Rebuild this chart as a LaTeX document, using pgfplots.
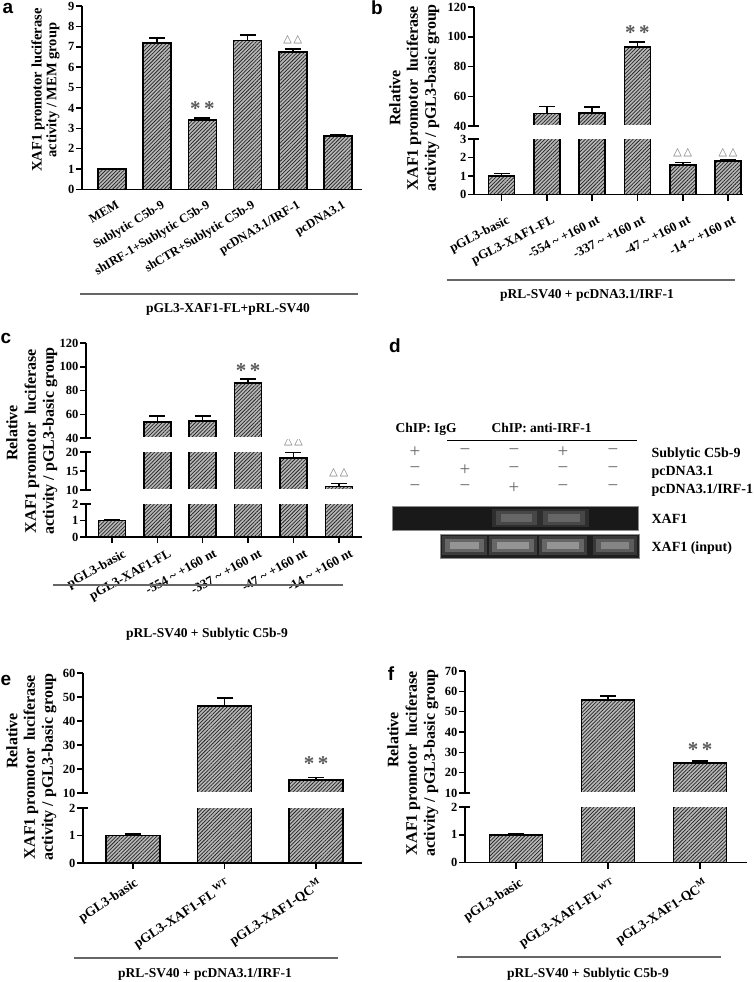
\documentclass[border=0pt]{standalone}
\usepackage{fontspec}
\setmainfont{Liberation Serif}
\newfontfamily\sflab{Liberation Sans}
\newfontfamily\djv{DejaVu Sans}
\usepackage{pgfplots}
\pgfplotsset{compat=1.18}
\usetikzlibrary{patterns.meta}
\newcommand\fs[1]{\fontsize{#1}{#1}\selectfont}
\pgfplotsset{
  base/.style={scale only axis, anchor=south west, clip mode=individual, enlargelimits=false,
    axis line style={line width=1.5pt, black},
    tick style={line width=1.5pt, black},
    major tick length=6pt, tick align=outside,
    /pgf/number format/assume math mode=true,
    yticklabel style={font=\bfseries\fs{12.5}, inner sep=1.5pt},
    extra y tick style={tick align=center, major tick length=9pt},
    extra y tick labels={}},
  lower/.style={base, axis x line*=bottom, axis y line*=left, xtick={0,...,5}},
  xl/.style n args={4}{xticklabel style={font=\bfseries\fs{#4}, xshift=#1pt, yshift=#2pt, rotate=#3, anchor=north east, inner sep=1pt}},
  upper/.style={base, axis x line=none, axis y line*=left, xtick=\empty},
  hb/.style={ybar, bar width=#1, draw=black, line width=1.6pt, fill=black!28,
    postaction={pattern={Lines[angle=45,distance=2.6pt,line width=0.75pt]}, pattern color=black!85},
    error bars/.cd, y dir=plus, y explicit,
    error bar style={line width=1.5pt, black},
    error mark options={rotate=90, mark size=8pt, line width=1.5pt, black}},
}
\tikzset{
  star/.style={font=\bfseries\fs{21}, text=black!65},
  tri/.style={font=\djv\fs{11}, text=black!55},
  pm/.style={font=\fs{19}, text=black!60},
}
\newcommand\cut{\fill[white] ([xshift=7pt,yshift=-1pt]rel axis cs:0,0) rectangle ([yshift=1.5pt]rel axis cs:1,0);}
\begin{document}
\begin{tikzpicture}
\path[use as bounding box] (0pt,0pt) rectangle (754pt,-982pt);

% ---------------- panel a ----------------
\begin{axis}[lower, at={(82pt,-189.5pt)}, width=280pt, height=183.5pt,
  xmin=-0.66, xmax=5.53, ymin=0, ymax=9, ytick={0,...,9},
  every x tick/.append style={draw=none},
  xticklabels={MEM, Sublytic C5b-9, shIRF-1+Sublytic C5b-9, shCTR+Sublytic C5b-9, pcDNA3.1/IRF-1, pcDNA3.1},
  xl={4}{-3}{31}{12.6}]
\addplot[hb=28pt] table[x=x,y=y,y error=e]{
x y e
0 1.00 0.03
1 7.20 0.22
2 3.40 0.10
3 7.30 0.28
4 6.75 0.15
5 2.62 0.07
};
\node[star] at (axis cs:2,3.95) {*\,*};
\node[tri] at (axis cs:4,7.37) {△\,△};
\end{axis}

% ---------------- panel b ----------------
\begin{axis}[lower, at={(474pt,-194.5pt)}, width=269pt, height=55.5pt,
  xmin=-0.61, xmax=5.33, ymin=0, ymax=3, ytick={0,1,2,3}, extra y ticks={3},
  xticklabels={pGL3-basic, pGL3-XAF1-FL, -554 \textasciitilde{} +160 nt, -337 \textasciitilde{} +160 nt, -47 \textasciitilde{} +160 nt, -14 \textasciitilde{} +160 nt},
  xl={5}{-13}{27}{13}]
\addplot[hb=26pt] table[x=x,y=y,y error=e]{
x y e
0 1.00 0.13
1 48.5 4.6
2 48.6 4.3
3 93.0 3.5
4 1.59 0.14
5 1.81 0.09
};
\node[tri] at (axis cs:4,2.24) {△\,△};
\node[tri] at (axis cs:5,2.24) {△\,△};
\end{axis}
\begin{axis}[upper, at={(474pt,-126pt)}, width=269pt, height=119pt,
  xmin=-0.61, xmax=5.33, ymin=40, ymax=120, ytick={40,60,...,120}, extra y ticks={40}]
\addplot[hb=26pt] table[x=x,y=y,y error=e]{
x y e
0 1.00 0.13
1 48.5 4.6
2 48.6 4.3
3 93.0 3.5
4 1.59 0.14
5 1.81 0.09
};
\cut
\node[star] at (axis cs:3,102.5) {*\,*};
\end{axis}

% ---------------- panel c ----------------
\begin{axis}[lower, at={(86pt,-537pt)}, width=276pt, height=33pt,
  xmin=-0.57, xmax=5.51, ymin=0, ymax=2, ytick={0,1,2}, extra y ticks={2},
  xticklabels={pGL3-basic, pGL3-XAF1-FL, -554 \textasciitilde{} +160 nt, -337 \textasciitilde{} +160 nt, -47 \textasciitilde{} +160 nt, -14 \textasciitilde{} +160 nt},
  xl={11}{-4}{29}{13}]
\addplot[hb=27pt] table[x=x,y=y,y error=e]{
x y e
0 1.00 0.02
1 53.4 5.0
2 54.3 4.2
3 86.2 3.4
4 18.4 1.6
5 10.9 0.8
};
\end{axis}
\begin{axis}[upper, at={(86pt,-490pt)}, width=276pt, height=38pt,
  xmin=-0.57, xmax=5.51, ymin=10, ymax=20, ytick={10,15,20}, extra y ticks={10,20}]
\addplot[hb=27pt] table[x=x,y=y,y error=e]{
x y e
0 1.00 0.02
1 53.4 5.0
2 54.3 4.2
3 86.2 3.4
4 18.4 1.6
5 10.9 0.8
};
\cut
\node[tri] at (axis cs:4,22.6) {△\,△};
\node[tri] at (axis cs:5,14.5) {△\,△};
\end{axis}
\begin{axis}[upper, at={(86pt,-438pt)}, width=276pt, height=95pt,
  xmin=-0.57, xmax=5.51, ymin=40, ymax=120, ytick={40,60,...,120}, extra y ticks={40}]
\addplot[hb=27pt] table[x=x,y=y,y error=e]{
x y e
0 1.00 0.02
1 53.4 5.0
2 54.3 4.2
3 86.2 3.4
4 18.4 1.6
5 10.9 0.8
};
\cut
\node[star] at (axis cs:3,96.5) {*\,*};
\end{axis}

% ---------------- panel e ----------------
\begin{axis}[lower, at={(83pt,-863pt)}, width=279pt, height=55pt,
  xmin=-0.546, xmax=2.50, ymin=0, ymax=2, ytick={0,1,2}, extra y ticks={2},
  xtick={0,1,2},
  xticklabels={pGL3-basic, pGL3-XAF1-FL\textsuperscript{\,WT}, pGL3-XAF1-QC\textsuperscript{M}},
  xl={1}{-7}{33}{13.5}]
\addplot[hb=54pt] table[x=x,y=y,y error=e]{
x y e
0 1.00 0.06
1 46.2 3.4
2 15.4 1.0
};
\end{axis}
\begin{axis}[upper, at={(83pt,-793pt)}, width=279pt, height=120pt,
  xmin=-0.546, xmax=2.50, ymin=10, ymax=60, ytick={10,20,...,60}, extra y ticks={10}]
\addplot[hb=54pt] table[x=x,y=y,y error=e]{
x y e
0 1.00 0.06
1 46.2 3.4
2 15.4 1.0
};
\cut
\node[star] at (axis cs:2,22.4) {*\,*};
\end{axis}

% ---------------- panel f ----------------
\begin{axis}[lower, at={(465pt,-862.5pt)}, width=282pt, height=55.5pt,
  xmin=-0.554, xmax=2.51, ymin=0, ymax=2, ytick={0,1,2}, extra y ticks={2},
  xtick={0,1,2},
  xticklabels={pGL3-basic, pGL3-XAF1-FL\textsuperscript{\,WT}, pGL3-XAF1-QC\textsuperscript{M}},
  xl={3}{-7}{33}{13.5}]
\addplot[hb=53pt] table[x=x,y=y,y error=e]{
x y e
0 1.00 0.03
1 55.8 2.0
2 24.8 1.0
};
\end{axis}
\begin{axis}[upper, at={(465pt,-793pt)}, width=282pt, height=122pt,
  xmin=-0.554, xmax=2.51, ymin=10, ymax=70, ytick={10,20,...,70}, extra y ticks={10}]
\addplot[hb=53pt] table[x=x,y=y,y error=e]{
x y e
0 1.00 0.03
1 55.8 2.0
2 24.8 1.0
};
\cut
\node[star] at (axis cs:2,31.5) {*\,*};
\end{axis}

% ---------------- panel d (gels) ----------------
\begin{axis}[scale only axis, anchor=south west, at={(392pt,-530pt)}, width=246pt, height=24pt,
  xmin=392, xmax=638, ymin=0, ymax=1, xtick=\empty, ytick=\empty,
  axis line style={draw=black!45, line width=0.8pt}, axis background/.style={fill=black!90}]
\addplot[fill=black!82, draw=none] coordinates {(492,0.12) (541,0.12) (541,0.88) (492,0.88)} --cycle;
\addplot[fill=black!72, draw=none] coordinates {(496,0.22) (537,0.22) (537,0.78) (496,0.78)} --cycle;
\addplot[fill=black!60, draw=none] coordinates {(501,0.34) (532,0.34) (532,0.66) (501,0.66)} --cycle;
\addplot[fill=black!82, draw=none] coordinates {(539,0.12) (589,0.12) (589,0.88) (539,0.88)} --cycle;
\addplot[fill=black!72, draw=none] coordinates {(543,0.22) (585,0.22) (585,0.78) (543,0.78)} --cycle;
\addplot[fill=black!60, draw=none] coordinates {(548,0.34) (580,0.34) (580,0.66) (548,0.66)} --cycle;
\end{axis}
\begin{axis}[scale only axis, anchor=south west, at={(440pt,-558pt)}, width=199pt, height=24pt,
  xmin=440, xmax=639, ymin=0, ymax=1, xtick=\empty, ytick=\empty,
  axis line style={draw=black!45, line width=0.8pt}, axis background/.style={fill=black!88}]
\addplot[fill=black!76, draw=none] coordinates {(442,0.12) (487,0.12) (487,0.9) (442,0.9)} --cycle;
\addplot[fill=black!60, draw=none] coordinates {(445,0.24) (484,0.24) (484,0.8) (445,0.8)} --cycle;
\addplot[fill=black!42, draw=none] coordinates {(450,0.36) (479,0.36) (479,0.68) (450,0.68)} --cycle;
\addplot[fill=black!76, draw=none] coordinates {(489,0.12) (537,0.12) (537,0.9) (489,0.9)} --cycle;
\addplot[fill=black!60, draw=none] coordinates {(492,0.24) (534,0.24) (534,0.8) (492,0.8)} --cycle;
\addplot[fill=black!42, draw=none] coordinates {(497,0.36) (529,0.36) (529,0.68) (497,0.68)} --cycle;
\addplot[fill=black!76, draw=none] coordinates {(539,0.12) (587,0.12) (587,0.9) (539,0.9)} --cycle;
\addplot[fill=black!60, draw=none] coordinates {(542,0.24) (584,0.24) (584,0.8) (542,0.8)} --cycle;
\addplot[fill=black!42, draw=none] coordinates {(547,0.36) (579,0.36) (579,0.68) (547,0.68)} --cycle;
\addplot[fill=black!78, draw=none] coordinates {(593,0.12) (637,0.12) (637,0.9) (593,0.9)} --cycle;
\addplot[fill=black!64, draw=none] coordinates {(596,0.24) (634,0.24) (634,0.8) (596,0.8)} --cycle;
\addplot[fill=black!48, draw=none] coordinates {(601,0.36) (629,0.36) (629,0.68) (601,0.68)} --cycle;
\end{axis}

% ---------------- panel letters ----------------
\node[font=\sflab\bfseries\fs{19}] at (8pt,-8pt) {a};
\node[font=\sflab\bfseries\fs{19}] at (377pt,-8pt) {b};
\node[font=\sflab\bfseries\fs{19}] at (6pt,-338pt) {c};
\node[font=\sflab\bfseries\fs{19}] at (395pt,-346pt) {d};
\node[font=\sflab\bfseries\fs{19}] at (6pt,-680pt) {e};
\node[font=\sflab\bfseries\fs{19}] at (391pt,-674pt) {f};

% ---------------- y labels ----------------
\node[rotate=90, font=\bfseries\fs{14.5}] at (38pt,-90pt) {XAF1 promotor luciferase};
\node[rotate=90, font=\bfseries\fs{14.5}] at (53pt,-90pt) {activity / MEM group};
\node[rotate=90, font=\bfseries\fs{16}] at (395pt,-98pt) {Relative};
\node[rotate=90, font=\bfseries\fs{16}] at (414pt,-98pt) {XAF1 promotor\ \ luciferase};
\node[rotate=90, font=\bfseries\fs{16}] at (432pt,-98pt) {activity / pGL3-basic group};
\node[rotate=90, font=\bfseries\fs{16}] at (12pt,-433pt) {Relative};
\node[rotate=90, font=\bfseries\fs{16}] at (32pt,-441pt) {XAF1 promotor\ \ luciferase};
\node[rotate=90, font=\bfseries\fs{16}] at (50pt,-441pt) {activity / pGL3-basic group};
\node[rotate=90, font=\bfseries\fs{16}] at (12pt,-741pt) {Relative};
\node[rotate=90, font=\bfseries\fs{16}] at (31pt,-767pt) {XAF1 promotor\ \ luciferase};
\node[rotate=90, font=\bfseries\fs{16}] at (49pt,-767pt) {activity / pGL3-basic group};
\node[rotate=90, font=\bfseries\fs{16}] at (393pt,-740pt) {Relative};
\node[rotate=90, font=\bfseries\fs{16}] at (413pt,-763pt) {XAF1 promotor\ \ luciferase};
\node[rotate=90, font=\bfseries\fs{16}] at (431pt,-763pt) {activity / pGL3-basic group};

% ---------------- group lines and captions ----------------
\draw[black!60, line width=1.2pt] (80pt,-294pt) -- (358pt,-294pt);
\node[font=\bfseries\fs{13.5}] at (228pt,-309pt) {pGL3-XAF1-FL+pRL-SV40};
\draw[black!60, line width=1.2pt] (447pt,-280pt) -- (735pt,-280pt);
\node[font=\bfseries\fs{13.5}] at (587pt,-295pt) {pRL-SV40 + pcDNA3.1/IRF-1};
\draw[black!60, line width=1.2pt] (53pt,-585pt) -- (343pt,-585pt);
\node[font=\bfseries\fs{13.5}] at (207pt,-634pt) {pRL-SV40 + Sublytic C5b-9};
\draw[black!60, line width=1.2pt] (74pt,-958pt) -- (338pt,-958pt);
\node[font=\bfseries\fs{13.5}] at (205pt,-974pt) {pRL-SV40 + pcDNA3.1/IRF-1};
\draw[black!60, line width=1.2pt] (457pt,-957pt) -- (721pt,-957pt);
\node[font=\bfseries\fs{13.5}] at (588pt,-974pt) {pRL-SV40 + Sublytic C5b-9};

% ---------------- panel d text ----------------
\node[font=\bfseries\fs{13.5}, anchor=base west] at (392pt,-432pt) {ChIP: IgG};
\node[font=\bfseries\fs{13.5}, anchor=base west] at (488pt,-432pt) {ChIP: anti-IRF-1};
\draw[black, line width=1pt] (447pt,-440pt) -- (637pt,-440pt);
\foreach \x/\a/\b/\c in {415/+/−/−, 465/−/+/−, 514/−/−/+, 563/+/−/−, 613/−/−/−}{
  \node[pm] at (\x pt,-452pt) {\a};
  \node[pm] at (\x pt,-470pt) {\b};
  \node[pm] at (\x pt,-488pt) {\c};
}
\node[font=\bfseries\fs{14}, anchor=base west] at (648pt,-457pt) {Sublytic C5b-9};
\node[font=\bfseries\fs{14}, anchor=base west] at (648pt,-475pt) {pcDNA3.1};
\node[font=\bfseries\fs{14}, anchor=base west] at (648pt,-493pt) {pcDNA3.1/IRF-1};
\node[font=\bfseries\fs{14}, anchor=base west] at (648pt,-523pt) {XAF1};
\node[font=\bfseries\fs{14}, anchor=base west] at (648pt,-551pt) {XAF1 (input)};
\end{tikzpicture}
\end{document}
